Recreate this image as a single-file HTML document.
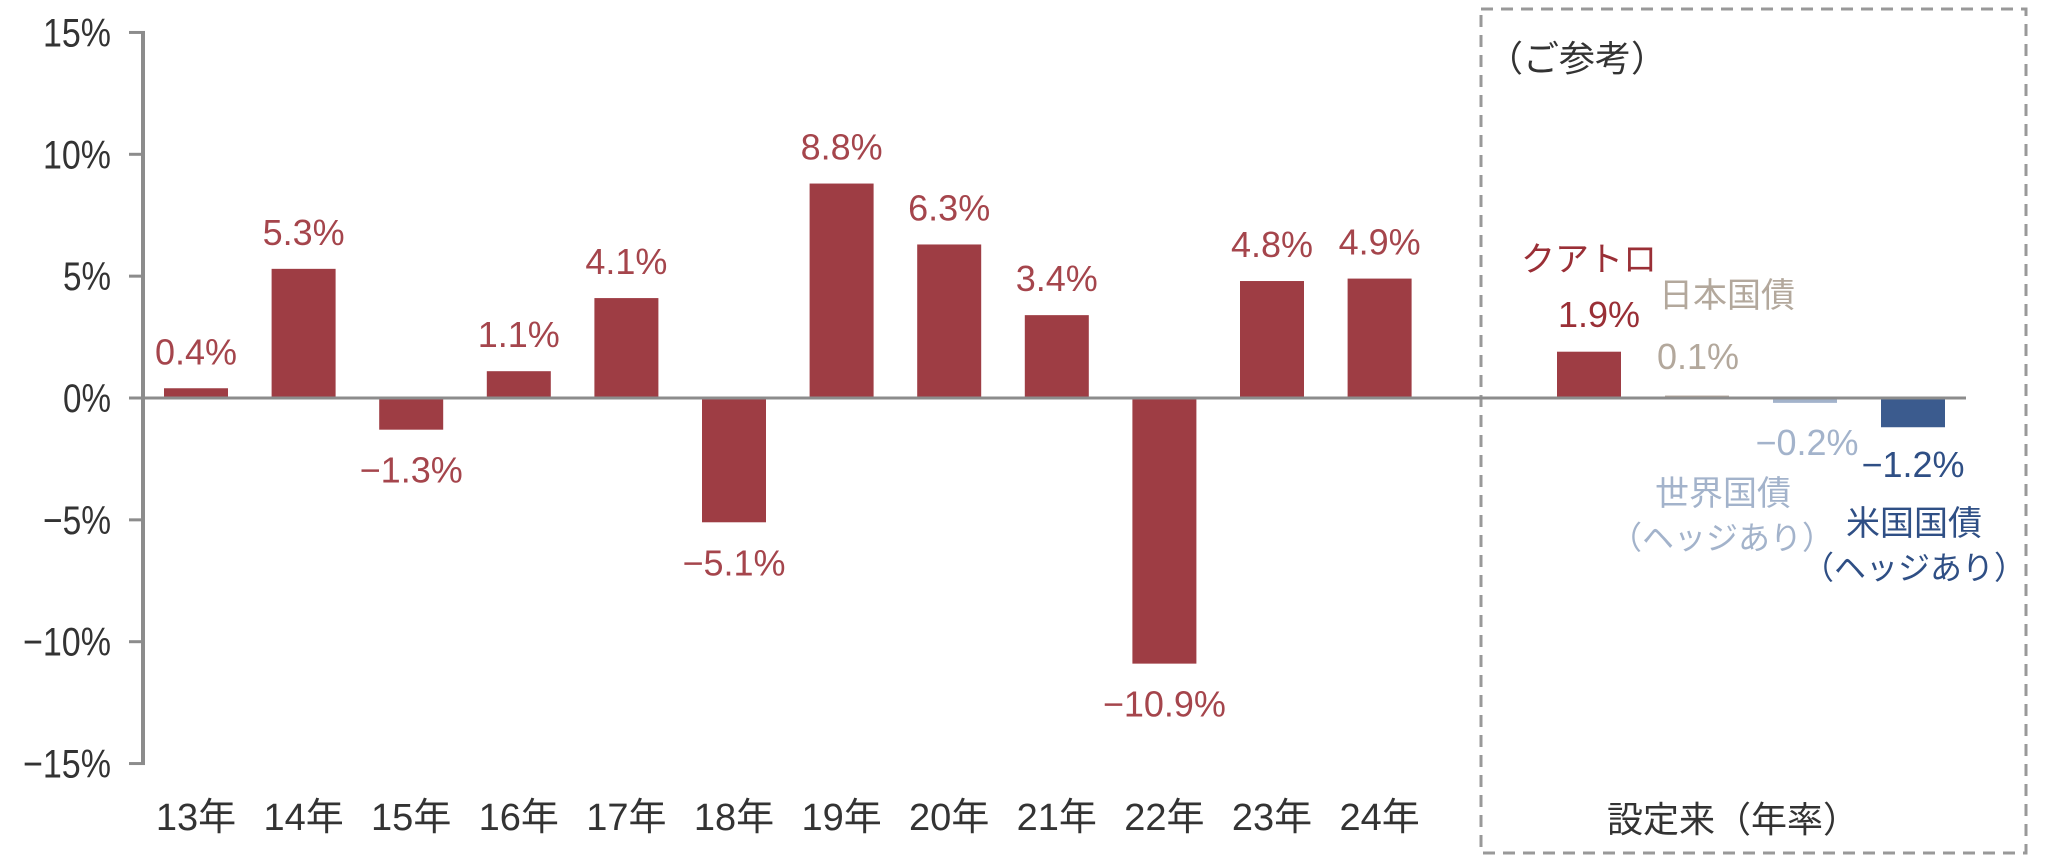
<!DOCTYPE html>
<html><head><meta charset="utf-8"><style>
html,body{margin:0;padding:0;background:#fff;width:2048px;height:862px;overflow:hidden}
svg{display:block}
text{font-family:"Liberation Sans","Noto Sans CJK JP",sans-serif}
</style></head><body>
<svg id="chart" width="2048" height="862" viewBox="0 0 2048 862" xmlns="http://www.w3.org/2000/svg">
<rect x="1481" y="9" width="545" height="844" fill="none" stroke="#999" stroke-width="3" stroke-dasharray="12 8"/>
<text x="1487" y="71" font-size="36" fill="#333">（ご参考）</text>
<text x="1733" y="832" font-size="36" fill="#333" text-anchor="middle">設定来（年率）</text>
<g id="grid"></g>
</svg>
<script>
const categories = ["13年","14年","15年","16年","17年","18年","19年","20年","21年","22年","23年","24年"];
const values = [0.4,5.3,-1.3,1.1,4.1,-5.1,8.8,6.3,3.4,-10.9,4.8,4.9];
const refNames = ["クアトロ","日本国債","世界国債","米国国債"];
const refValues = [1.9,0.1,-0.2,-1.2];
const yTicks = [15,10,5,0,-5,-10,-15];
const tickLabels = ["15%","10%","5%","0%","−5%","−10%","−15%"];

const NS="http://www.w3.org/2000/svg";
const svg=document.getElementById('chart');
const y0=398, pxPer=24.37;
function y(v){return y0 - v*pxPer;}
function x(i){return 196 + i*107.6;}
function rx(i){return 1589 + i*108;}
function mk(tag,attrs,parent){const e=document.createElementNS(NS,tag);for(const k in attrs)e.setAttribute(k,attrs[k]);(parent||svg).appendChild(e);return e;}
function fmt(v){return (v<0?"−":"")+Math.abs(v).toFixed(1)+"%";}

// axis
const ax=mk('line',{x1:143,y1:y(15),x2:143,y2:y(-15),stroke:'#8c8c8c','stroke-width':4});


yTicks.forEach((t,i)=>{
  const tk=mk('line',{x1:129,y1:y(t),x2:145,y2:y(t),stroke:'#8c8c8c','stroke-width':3});
  
  
  const lb=mk('text',{x:111,y:y(t)+14,'font-size':40,fill:'#333','text-anchor':'end'});
  lb.textContent=tickLabels[i];
  const s=tickLabels[i];
  const len=(s.length-1)*20+28;
  lb.setAttribute('textLength',len);
  lb.setAttribute('lengthAdjust','spacingAndGlyphs');
  
  
});

// yearly bars
const red='#9e3d44';
categories.forEach((c,i)=>{
  const v=values[i];
  const top=Math.min(y(v),y0), h=Math.abs(y(v)-y0);
  const b=mk('rect',{x:x(i)-32,y:top,width:64,height:h,fill:red});
  
  
  const vl=mk('text',{x:x(i),y:v>=0?y(v)-24:y(v)+53,'font-size':36,fill:'#a5454c','text-anchor':'middle'});
  vl.textContent=fmt(v);
  
  
  const cl=mk('text',{x:x(i),y:830,'font-size':38,fill:'#333','text-anchor':'middle'});
  cl.textContent=c;
  
  
});

// reference bars
const refColors=['#9e3d44','#b3a89c','#a3b3cb','#3b5b8e'];
const refText=['#9a2f36','#b3a89c','#a3b3cb','#2f4f85'];
refNames.forEach((n,i)=>{
  const v=refValues[i];
  const top=Math.min(y(v),y0), h=Math.max(Math.abs(y(v)-y0),3);
  const b=mk('rect',{x:rx(i)-32,y:top,width:64,height:h,fill:refColors[i]});
  
  
});
const refLabels=[
 [0,1589,271,'クアトロ',34],[0,1599,327,null,36],
 [1,1727,307,'日本国債',34],[1,1698,369,null,36],
 [2,1807,455,null,36],[2,1723,505,'世界国債',34],[2,1722,549,'（ヘッジあり）',32],
 [3,1913,477,null,36],[3,1914,535,'米国国債',34],[3,1914,579,'（ヘッジあり）',32]
];
refLabels.forEach(r=>{
  const t=mk('text',{x:r[1],y:r[2],'font-size':r[4],fill:refText[r[0]],'text-anchor':'middle'});
  t.textContent=r[3]===null?fmt(refValues[r[0]]):r[3];
  
  
});

// zero line
const zl=mk('line',{x1:129,y1:y0,x2:1966,y2:y0,stroke:'#8c8c8c','stroke-width':3});


</script>
</body></html>
